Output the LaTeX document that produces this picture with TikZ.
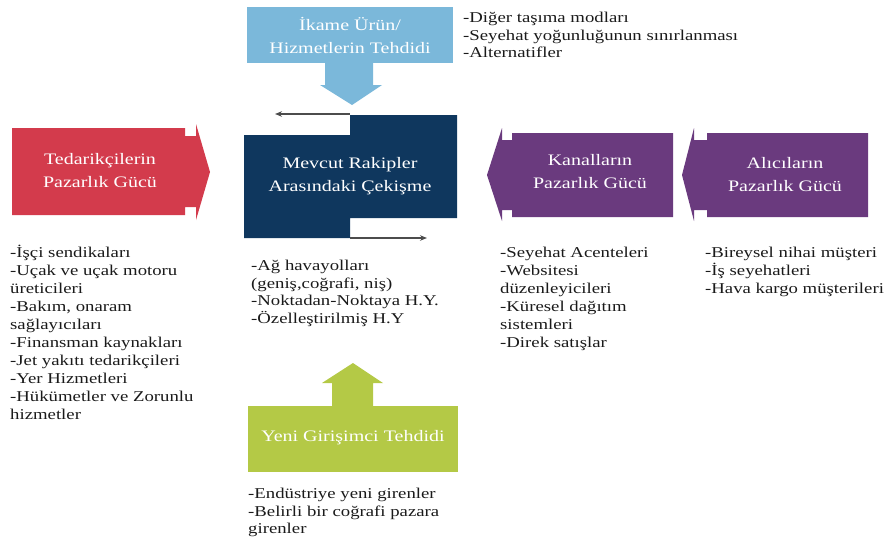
\documentclass[tikz,border=0pt]{standalone}
\usepackage{fontspec}
\setmainfont[FakeStretch=1.25]{Liberation Serif}
\usetikzlibrary{arrows.meta}

\definecolor{threatblue}{HTML}{7BB8DA}
\definecolor{supplyred}{HTML}{D33B4C}
\definecolor{rivalnavy}{HTML}{0F375E}
\definecolor{buyerpurple}{HTML}{6A3A7E}
\definecolor{entrantgreen}{HTML}{B4C946}
\definecolor{listink}{HTML}{1A1A1A}

\begin{document}
\begin{tikzpicture}[x=1pt,y=-1pt,
  boxlabel/.style={text=white,align=center,inner sep=0pt,
    font=\fontsize{16}{23}\selectfont},
  itemlist/.style={text=listink,align=left,inner sep=0pt,anchor=north west,
    font=\fontsize{15}{18}\selectfont},
  thinarrow/.style={draw=black!70,line width=1.5pt,
    -{Stealth[length=7pt,width=5.5pt]}}]

\useasboundingbox (0,0) rectangle (892,541);

% threat of substitutes: box with a downward arrow
\fill[threatblue] (247,7) rectangle (453,63);
\fill[threatblue] (325,62) -- (373,62) -- (373,85) -- (382,85)
  -- (352,105) -- (320,85) -- (325,85) -- cycle;
\node[boxlabel] (subst) at (350,35) {İkame Ürün/\\Hizmetlerin Tehdidi};

% supplier power: chevron pointing right
\fill[supplyred] (12,128) -- (185,128) -- (185,136) -- (196,136) -- (196,124)
  -- (210,172) -- (196,220) -- (196,207) -- (185,207) -- (185,215)
  -- (12,215) -- cycle;
\node[boxlabel] (supplier) at (100,171) {Tedarikçilerin\\Pazarlık Gücü};

% rivalry among existing competitors
\fill[rivalnavy] (244,135) -- (350,135) -- (350,115) -- (457,115)
  -- (457,218) -- (350,218) -- (350,238) -- (244,238) -- cycle;
\node[boxlabel] (rivalry) at (350,176) {Mevcut Rakipler\\Arasındaki Çekişme};
\coordinate (topstart) at (350,114);
\coordinate (topend) at (275,114);
\coordinate (botstart) at (350,238);
\coordinate (botend) at (427,238);
\draw[thinarrow] (topstart) -- (topend);
\draw[thinarrow] (botstart) -- (botend);

% channel power: chevron pointing left
\fill[buyerpurple] (673,133) -- (512,133) -- (512,140) -- (502,140) -- (502,128)
  -- (487,175) -- (502,221) -- (502,210) -- (512,210) -- (512,217)
  -- (673,217) -- cycle;
\node[boxlabel] (channel) at (590,172) {Kanalların\\Pazarlık Gücü};

% buyer power: chevron pointing left
\fill[buyerpurple] (868,133) -- (707,133) -- (707,140) -- (694,140) -- (694,128)
  -- (682,175) -- (694,221) -- (694,210) -- (707,210) -- (707,217)
  -- (868,217) -- cycle;
\node[boxlabel] (buyer) at (785,175) {Alıcıların\\Pazarlık Gücü};

% threat of new entrants: box with an upward arrow
\fill[entrantgreen] (248,406) rectangle (458,472);
\fill[entrantgreen] (332,407) -- (332,383) -- (322,383) -- (353,363)
  -- (383,383) -- (373,383) -- (373,407) -- cycle;
\node[boxlabel] (entrant) at (353,438) {Yeni Girişimci Tehdidi};

% item lists
\node[itemlist,font=\fontsize{15}{17.5}\selectfont] (substlist) at (463,12)
  {-Diğer taşıma modları\\-Seyehat yoğunluğunun sınırlanması\\-Alternatifler};
\node[itemlist] (supplierlist) at (10,245)
  {-İşçi sendikaları\\-Uçak ve uçak motoru\\üreticileri\\-Bakım, onaram\\sağlayıcıları\\-Finansman kaynakları\\-Jet yakıtı tedarikçileri\\-Yer Hizmetleri\\-Hükümetler ve Zorunlu\\hizmetler};
\node[itemlist,font=\fontsize{15}{17.6}\selectfont] (rivallist) at (251,260)
  {-Ağ havayolları\\(geniş,coğrafi, niş)\\-Noktadan-Noktaya H.Y.\\-Özelleştirilmiş H.Y};
\node[itemlist] (channellist) at (500,247)
  {-Seyehat Acenteleri\\-Websitesi\\düzenleyicileri\\-Küresel dağıtım\\sistemleri\\-Direk satışlar};
\node[itemlist] (buyerlist) at (705,247)
  {-Bireysel nihai müşteri\\-İş seyehatleri\\-Hava kargo müşterileri};
\node[itemlist,font=\fontsize{15}{17.5}\selectfont] (entrantlist) at (248,488)
  {-Endüstriye yeni girenler\\-Belirli bir coğrafi pazara\\girenler};
\end{tikzpicture}
\end{document}
